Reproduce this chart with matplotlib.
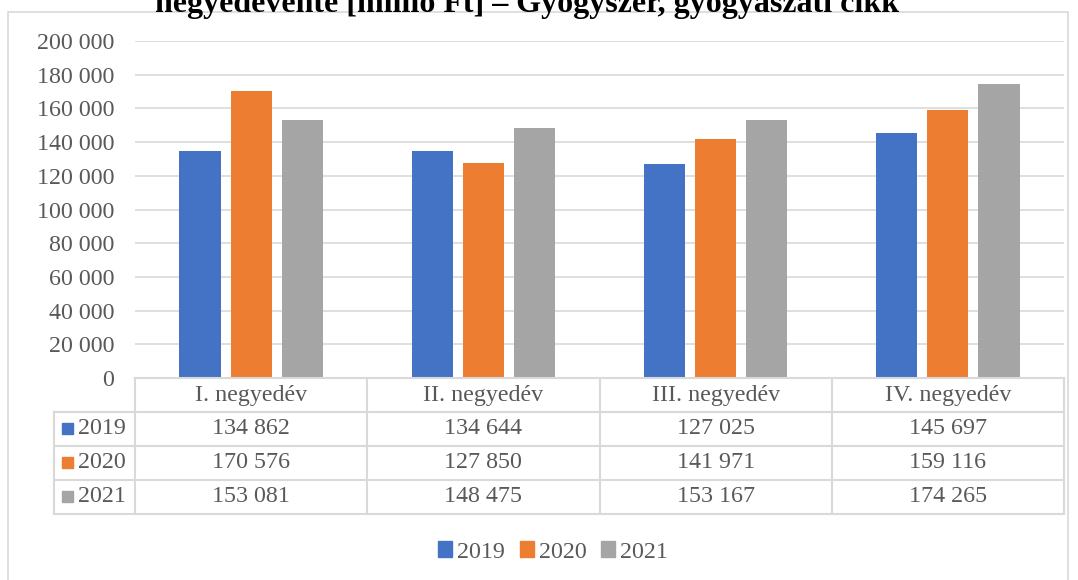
from matplotlib import pyplot as plt
from matplotlib.lines import Line2D
from matplotlib.patches import Rectangle
import numpy as np

quarters = ['I. negyedév', 'II. negyedév', 'III. negyedév', 'IV. negyedév']
years = ['2019', '2020', '2021']
v2019 = [134862, 134644, 127025, 145697]
v2020 = [170576, 127850, 141971, 159116]
v2021 = [153081, 148475, 153167, 174265]
yticks = [0, 20000, 40000, 60000, 80000, 100000, 120000, 140000, 160000, 180000, 200000]
colors = ['#4472C4', '#ED7D31', '#A5A5A5']
title = 'negyedévente [millió Ft] – Gyógyszer, gyógyászati cikk'

W, H = 1078, 580
plt.rcParams['font.family'] = ['Liberation Serif', 'DejaVu Serif']
fig = plt.figure(figsize=(W / 100, H / 100), dpi=100)

def fx(px):
    return px / W

def fy(py):
    return 1 - py / H

# chart frame
fig.patches.append(Rectangle((fx(8), fy(H + 5)), fx(1068 - 8), fy(12) - fy(H + 5),
                             transform=fig.transFigure, fill=False,
                             edgecolor='#d9d9d9', lw=1.2))

x0, x1, ytop, ybot = 135, 1064, 41, 378
ax = fig.add_axes([fx(x0), fy(ybot), fx(x1 - x0), fy(ytop) - fy(ybot)])
ax.set_xlim(-0.5, 3.5)
ax.set_ylim(0, 200000)

x = np.arange(len(quarters))
series = [v2019, v2020, v2021]
for i, vals in enumerate(series):
    ax.bar(x + (i - 1) * 0.22, vals, width=0.177, color=colors[i], zorder=3)

ax.set_yticks(yticks)
ax.set_yticklabels([f'{v:,}'.replace(',', ' ') for v in yticks],
                   fontsize=17.3, color='#595959')
ax.tick_params(axis='y', length=0, pad=15)
ax.set_xticks([])
ax.grid(axis='y', color='#d9d9d9', lw=1.2, zorder=0)
for s in ax.spines.values():
    s.set_visible(False)

# data table under the plot
col_edges = [x0 + (x1 - x0) * k / 4 for k in range(5)]
row_edges = [378, 412, 446, 480, 514]
lc = '#d9d9d9'
tc = '#595959'
def hline(y, xa, xb):
    fig.add_artist(Line2D([fx(xa), fx(xb)], [fy(y), fy(y)], color=lc, lw=1.5,
                          transform=fig.transFigure))
def vline(xp, ya, yb):
    fig.add_artist(Line2D([fx(xp), fx(xp)], [fy(ya), fy(yb)], color=lc, lw=1.5,
                          transform=fig.transFigure))

hline(row_edges[0], x0, x1)
for y in row_edges[1:]:
    hline(y, 54, x1)
for xp in col_edges:
    vline(xp, row_edges[0], row_edges[-1])
vline(54, row_edges[1], row_edges[-1])

for j, q in enumerate(quarters):
    cx = (col_edges[j] + col_edges[j + 1]) / 2
    fig.text(fx(cx), fy((row_edges[0] + row_edges[1]) / 2), q, ha='center',
             va='center', fontsize=17.3, color=tc)
    for i, vals in enumerate(series):
        cy = (row_edges[i + 1] + row_edges[i + 2]) / 2
        fig.text(fx(cx), fy(cy), f'{vals[j]:,}'.replace(',', ' '), ha='center',
                 va='center', fontsize=17.3, color=tc)

for i, yr in enumerate(years):
    cy = (row_edges[i + 1] + row_edges[i + 2]) / 2
    fig.patches.append(Rectangle((fx(62), fy(cy + 5)), fx(11), fy(cy - 6) - fy(cy + 5),
                                 transform=fig.transFigure, color=colors[i]))
    fig.text(fx(78), fy(cy), yr, ha='left', va='center', fontsize=17.3, color=tc)

# legend
handles = [Rectangle((0, 0), 1, 1, color=c) for c in colors]
fig.legend(handles, years, loc='center', bbox_to_anchor=(fx(553), fy(552)),
           ncol=3, frameon=False, fontsize=17.3, handlelength=0.6, handleheight=0.6,
           handletextpad=0.2, columnspacing=0.6, labelcolor=tc)

# title (top part clipped by figure edge as in the source)
fig.text(fx(527), fy(12), title, ha='center', va='baseline', fontsize=23,
         fontweight='bold', color='black')

fig.savefig('out.png', dpi=100)
